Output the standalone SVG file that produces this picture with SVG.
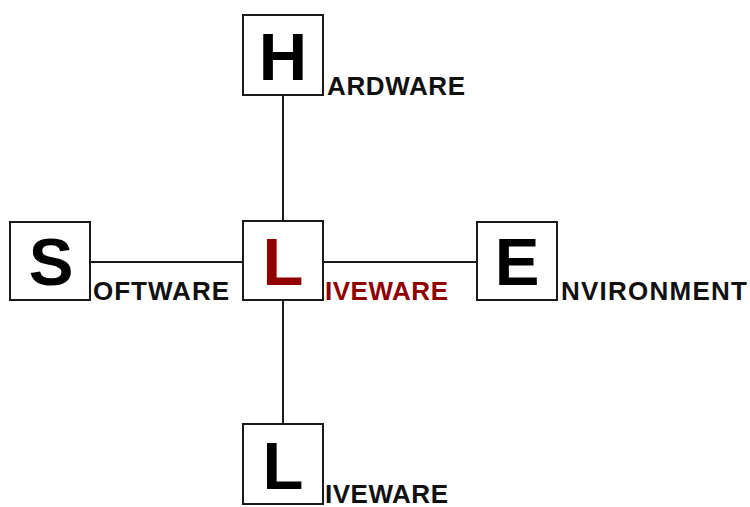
<svg xmlns="http://www.w3.org/2000/svg" width="750" height="507" viewBox="0 0 750 507">
<style>
.box{fill:#fff;stroke:#1a1a1a;stroke-width:2}
.big{font-family:"Liberation Sans",Arial,sans-serif;font-weight:bold;font-size:67px;text-anchor:middle;fill:#000}
.lbl{font-family:"Liberation Sans",Arial,sans-serif;font-weight:bold;font-size:26px;fill:#111}
.red{fill:#8f0000}
.conn{stroke:#1a1a1a;stroke-width:2;fill:none}
</style>
<rect width="750" height="507" fill="#fff"/>
<g id="connectors">
<line class="conn" x1="283" y1="95" x2="283" y2="221"/>
<line class="conn" x1="283" y1="300" x2="283" y2="424"/>
<line class="conn" x1="90" y1="262" x2="243" y2="262"/>
<line class="conn" x1="323" y1="262" x2="477" y2="262"/>
</g>
<g id="hardware">
<rect class="box" x="243" y="15" width="80" height="80"/>
<text class="big" x="283" y="80">H</text>
<text class="lbl" x="327" y="95" textLength="138" lengthAdjust="spacing">ARDWARE</text>
</g>
<g id="software">
<rect class="box" x="10" y="222" width="80" height="78"/>
<text class="big" x="51" y="285">S</text>
<text class="lbl" x="93" y="300" textLength="136" lengthAdjust="spacing">OFTWARE</text>
</g>
<g id="liveware-center">
<rect class="box" x="243" y="221" width="80" height="79"/>
<text class="big red" x="283" y="285">L</text>
<text class="lbl red" x="325" y="300" textLength="123" lengthAdjust="spacing">IVEWARE</text>
</g>
<g id="environment">
<rect class="box" x="477" y="222" width="80" height="78"/>
<text class="big" x="517" y="285">E</text>
<text class="lbl" x="561" y="300" textLength="186" lengthAdjust="spacing">NVIRONMENT</text>
</g>
<g id="liveware-bottom">
<rect class="box" x="243" y="424" width="80" height="80"/>
<text class="big" x="283" y="489">L</text>
<text class="lbl" x="325" y="503" textLength="123" lengthAdjust="spacing">IVEWARE</text>
</g>
</svg>
